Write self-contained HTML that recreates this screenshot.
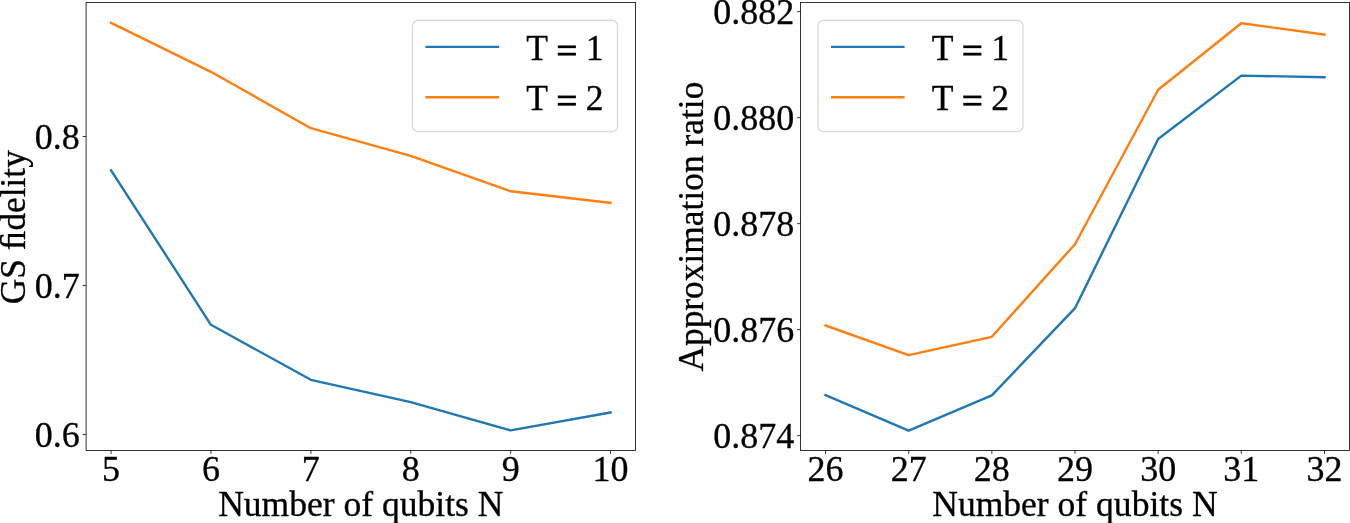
<!DOCTYPE html>
<html><head><meta charset="utf-8"><title>chart</title>
<style>
html,body{margin:0;padding:0;background:#fff;}
body{width:1350px;height:523px;overflow:hidden;}
svg{display:block;will-change:transform;}
text{font-family:"Liberation Serif",serif;fill:#000;stroke:#000;stroke-width:0.3px;stroke-linejoin:round;}
</style></head><body>
<svg width="1350" height="523" viewBox="0 0 1350 523">
<rect x="0" y="0" width="1350" height="523" fill="#ffffff"/>
<g>
<polyline points="111.07,170.30 210.96,324.80 310.85,379.80 410.74,402.20 510.63,430.40 610.52,412.50" fill="none" stroke="#1f77b4" stroke-width="2.4" stroke-linecap="square" stroke-linejoin="round"/>
<polyline points="111.07,22.90 210.96,71.80 310.85,128.20 410.74,155.90 510.63,191.30 610.52,202.90" fill="none" stroke="#ff7f0e" stroke-width="2.4" stroke-linecap="square" stroke-linejoin="round"/>
<line x1="82.70" y1="136.50" x2="86.10" y2="136.50" stroke="#000000" stroke-width="0.8"/>
<line x1="82.70" y1="285.50" x2="86.10" y2="285.50" stroke="#000000" stroke-width="0.8"/>
<line x1="82.70" y1="434.50" x2="86.10" y2="434.50" stroke="#000000" stroke-width="0.8"/>
<line x1="111.07" y1="450.5" x2="111.07" y2="453.90" stroke="#000000" stroke-width="0.8"/>
<line x1="210.96" y1="450.5" x2="210.96" y2="453.90" stroke="#000000" stroke-width="0.8"/>
<line x1="310.85" y1="450.5" x2="310.85" y2="453.90" stroke="#000000" stroke-width="0.8"/>
<line x1="410.74" y1="450.5" x2="410.74" y2="453.90" stroke="#000000" stroke-width="0.8"/>
<line x1="510.63" y1="450.5" x2="510.63" y2="453.90" stroke="#000000" stroke-width="0.8"/>
<line x1="610.52" y1="450.5" x2="610.52" y2="453.90" stroke="#000000" stroke-width="0.8"/>
<rect x="86.1" y="2.5" width="549.40" height="448.00" fill="none" stroke="#000000" stroke-width="0.8"/>
<text transform="translate(79.70,148.90) scale(1,1.02)" font-size="36.0" text-anchor="end">0.8</text>
<text transform="translate(79.70,297.90) scale(1,1.02)" font-size="36.0" text-anchor="end">0.7</text>
<text transform="translate(79.70,446.90) scale(1,1.02)" font-size="36.0" text-anchor="end">0.6</text>
<text transform="translate(111.07,481.00) scale(1,1.015)" font-size="36.0" text-anchor="middle">5</text>
<text transform="translate(210.96,481.00) scale(1,1.015)" font-size="36.0" text-anchor="middle">6</text>
<text transform="translate(310.85,481.00) scale(1,1.015)" font-size="36.0" text-anchor="middle">7</text>
<text transform="translate(410.74,481.00) scale(1,1.015)" font-size="36.0" text-anchor="middle">8</text>
<text transform="translate(510.63,481.00) scale(1,1.015)" font-size="36.0" text-anchor="middle">9</text>
<text transform="translate(610.52,481.00) scale(1,1.015)" font-size="36.0" text-anchor="middle">10</text>
<text x="360.8" y="515.6" font-size="35.55" text-anchor="middle">Number of qubits N</text>
<text transform="translate(24.5,227.15) rotate(-90)" font-size="35.3" text-anchor="middle">GS &#xFB01;delity</text>
<rect x="412.5" y="20.4" width="205" height="111.3" rx="5.5" ry="5.5" fill="#ffffff" fill-opacity="0.8" stroke="#d4d4d4" stroke-width="1.1"/>
<line x1="426.70" y1="46.9" x2="497.90" y2="46.9" stroke="#1f77b4" stroke-width="2.4" stroke-linecap="square"/>
<text x="526.30" y="59.8" font-size="35.6">T</text>
<rect x="557.80" y="45.45" width="18.1" height="2.7" fill="#000"/>
<rect x="557.80" y="52.75" width="18.1" height="2.8" fill="#000"/>
<text transform="translate(594.70,59.80) scale(1,1.02)" font-size="35.6" text-anchor="middle">1</text>
<line x1="426.70" y1="97.3" x2="497.90" y2="97.3" stroke="#ff7f0e" stroke-width="2.4" stroke-linecap="square"/>
<text x="526.30" y="109.9" font-size="35.6">T</text>
<rect x="557.80" y="95.55" width="18.1" height="2.7" fill="#000"/>
<rect x="557.80" y="102.85" width="18.1" height="2.8" fill="#000"/>
<text transform="translate(594.70,109.90) scale(1,1.02)" font-size="35.6" text-anchor="middle">2</text>
</g>
<g>
<polyline points="825.50,395.20 908.67,430.70 991.83,395.30 1075.00,308.20 1158.17,139.00 1241.33,75.60 1324.50,77.20" fill="none" stroke="#1f77b4" stroke-width="2.4" stroke-linecap="square" stroke-linejoin="round"/>
<polyline points="825.50,325.50 908.67,355.20 991.83,336.80 1075.00,244.20 1158.17,89.70 1241.33,23.20 1324.50,34.60" fill="none" stroke="#ff7f0e" stroke-width="2.4" stroke-linecap="square" stroke-linejoin="round"/>
<line x1="797.10" y1="11.65" x2="800.50" y2="11.65" stroke="#000000" stroke-width="0.8"/>
<line x1="797.10" y1="117.65" x2="800.50" y2="117.65" stroke="#000000" stroke-width="0.8"/>
<line x1="797.10" y1="223.65" x2="800.50" y2="223.65" stroke="#000000" stroke-width="0.8"/>
<line x1="797.10" y1="329.65" x2="800.50" y2="329.65" stroke="#000000" stroke-width="0.8"/>
<line x1="797.10" y1="435.65" x2="800.50" y2="435.65" stroke="#000000" stroke-width="0.8"/>
<line x1="825.50" y1="450.5" x2="825.50" y2="453.90" stroke="#000000" stroke-width="0.8"/>
<line x1="908.67" y1="450.5" x2="908.67" y2="453.90" stroke="#000000" stroke-width="0.8"/>
<line x1="991.83" y1="450.5" x2="991.83" y2="453.90" stroke="#000000" stroke-width="0.8"/>
<line x1="1075.00" y1="450.5" x2="1075.00" y2="453.90" stroke="#000000" stroke-width="0.8"/>
<line x1="1158.17" y1="450.5" x2="1158.17" y2="453.90" stroke="#000000" stroke-width="0.8"/>
<line x1="1241.33" y1="450.5" x2="1241.33" y2="453.90" stroke="#000000" stroke-width="0.8"/>
<line x1="1324.50" y1="450.5" x2="1324.50" y2="453.90" stroke="#000000" stroke-width="0.8"/>
<rect x="800.5" y="2.5" width="549.00" height="448.00" fill="none" stroke="#000000" stroke-width="0.8"/>
<text transform="translate(794.30,24.45) scale(1,1.02)" font-size="36.0" text-anchor="end">0.882</text>
<text transform="translate(794.30,130.45) scale(1,1.02)" font-size="36.0" text-anchor="end">0.880</text>
<text transform="translate(794.30,236.45) scale(1,1.02)" font-size="36.0" text-anchor="end">0.878</text>
<text transform="translate(794.30,342.45) scale(1,1.02)" font-size="36.0" text-anchor="end">0.876</text>
<text transform="translate(794.30,448.45) scale(1,1.02)" font-size="36.0" text-anchor="end">0.874</text>
<text transform="translate(825.50,481.00) scale(1,1.015)" font-size="36.0" text-anchor="middle">26</text>
<text transform="translate(908.67,481.00) scale(1,1.015)" font-size="36.0" text-anchor="middle">27</text>
<text transform="translate(991.83,481.00) scale(1,1.015)" font-size="36.0" text-anchor="middle">28</text>
<text transform="translate(1075.00,481.00) scale(1,1.015)" font-size="36.0" text-anchor="middle">29</text>
<text transform="translate(1158.17,481.00) scale(1,1.015)" font-size="36.0" text-anchor="middle">30</text>
<text transform="translate(1241.33,481.00) scale(1,1.015)" font-size="36.0" text-anchor="middle">31</text>
<text transform="translate(1324.50,481.00) scale(1,1.015)" font-size="36.0" text-anchor="middle">32</text>
<text x="1074.9" y="515.6" font-size="35.55" text-anchor="middle">Number of qubits N</text>
<text transform="translate(703.2,226.65) rotate(-90)" font-size="35.4" text-anchor="middle">Approximation ratio</text>
<rect x="818.0" y="20.4" width="205" height="111.3" rx="5.5" ry="5.5" fill="#ffffff" fill-opacity="0.8" stroke="#d4d4d4" stroke-width="1.1"/>
<line x1="832.20" y1="46.9" x2="903.40" y2="46.9" stroke="#1f77b4" stroke-width="2.4" stroke-linecap="square"/>
<text x="931.80" y="59.8" font-size="35.6">T</text>
<rect x="963.30" y="45.45" width="18.1" height="2.7" fill="#000"/>
<rect x="963.30" y="52.75" width="18.1" height="2.8" fill="#000"/>
<text transform="translate(1000.20,59.80) scale(1,1.02)" font-size="35.6" text-anchor="middle">1</text>
<line x1="832.20" y1="97.3" x2="903.40" y2="97.3" stroke="#ff7f0e" stroke-width="2.4" stroke-linecap="square"/>
<text x="931.80" y="109.9" font-size="35.6">T</text>
<rect x="963.30" y="95.55" width="18.1" height="2.7" fill="#000"/>
<rect x="963.30" y="102.85" width="18.1" height="2.8" fill="#000"/>
<text transform="translate(1000.20,109.90) scale(1,1.02)" font-size="35.6" text-anchor="middle">2</text>
</g>
</svg>
</body></html>
